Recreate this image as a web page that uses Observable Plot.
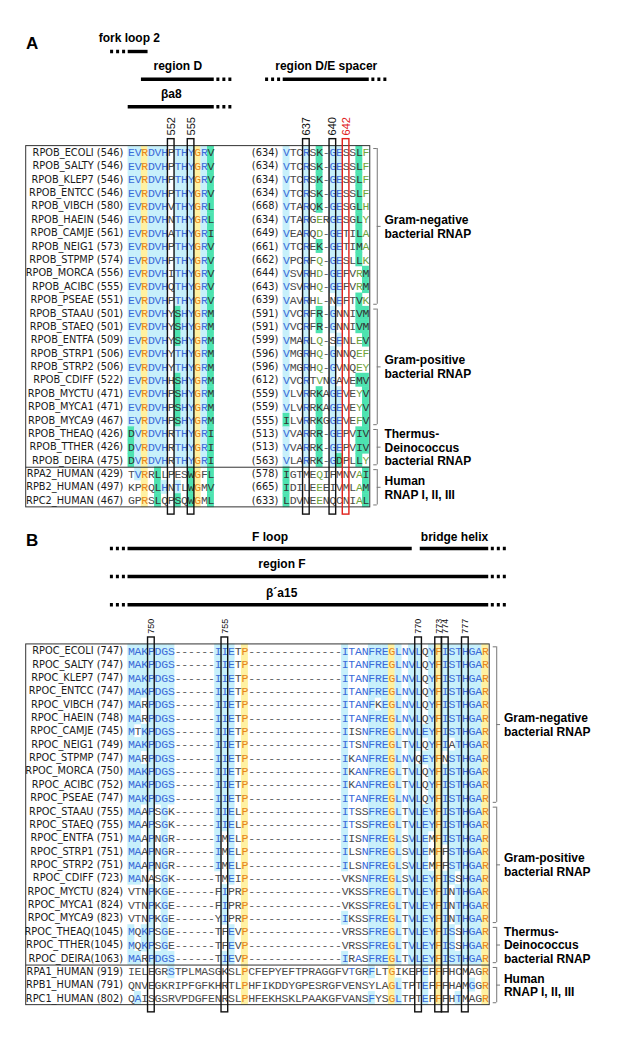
<!DOCTYPE html>
<html>
<head>
<meta charset="utf-8">
<script src="https://cdn.jsdelivr.net/npm/d3@7"></script>
<script src="https://cdn.jsdelivr.net/npm/@observablehq/plot@0.6"></script>
<style>
  html, body { margin: 0; padding: 0; background: #fff; }
  #fig { width: 639px; }
  #fig svg { display: block; }
</style>
</head>
<body>
<div id="fig"></div>
<script>
// ====================== DATA ======================
// ---- Panel A (RNAP beta subunit) ----
const namesA = ["RPOB_ECOLI","RPOB_SALTY","RPOB_KLEP7","RPOB_ENTCC","RPOB_VIBCH","RPOB_HAEIN","RPOB_CAMJE","RPOB_NEIG1","RPOB_STPMP","RPOB_MORCA","RPOB_ACIBC","RPOB_PSEAE","RPOB_STAAU","RPOB_STAEQ","RPOB_ENTFA","RPOB_STRP1","RPOB_STRP2","RPOB_CDIFF","RPOB_MYCTU","RPOB_MYCA1","RPOB_MYCA9","RPOB_THEAQ","RPOB_TTHER","RPOB_DEIRA","RPA2_HUMAN","RPB2_HUMAN","RPC2_HUMAN"];
const leftStartA = [546,546,546,546,580,546,561,573,574,556,555,551,501,501,509,506,506,522,471,471,467,426,426,475,429,497,467];
const leftSeqA = [
  "EVRDVHPTHYGRV","EVRDVHPTHYGRV","EVRDVHPTHYGRV","EVRDVHPTHYGRV","EVRDVHVTHYGRL",
  "EVRDVHNTHYGRL","EVRDVHATHYGRI","EVRDVHPTHYGRV","EVRDVHPTHYGRV","EVRDVHITHYGRV",
  "EVRDVHQTHYGRV","EVRDVHPTHYGRV","EVRDVHYSHYGRM","EVRDVHYSHYGRM","EVRDVHYSHYGRM",
  "EVRDVHYTHYGRM","EVRDVHYTHYGRM","EVRDVHHSHYGRM","EVRDVHPSHYGRM","EVRDVHPSHYGRM",
  "EVRDVHPSHYGRM","DVRDVHRTHYGRI","DVRDVHRTHYGRI","DVRDVHRTHYGRI","TVRRLLPESWGFL",
  "KPRQLHNTLWGMV","GPRSLQPSQWGML"];
const rightStartA = [634,634,634,634,668,634,649,661,662,644,643,639,591,591,599,596,596,612,559,559,555,513,513,563,578,665,633];
const rightSeqA = [
  "VTCRSK-GESSLF","VTCRSK-GESSLF","VTCRSK-GESSLF","VTCRSK-GESSLF","VTARQK-GESGLH",
  "VTARGERGESGLY","VEARQD-GETILA","VTCREK-GETIMA","VPCRFQ-GESLLK","VSVRHD-GEFVRM",
  "VSVRHQ-GEFVRM","VAVRHL-NEFTVK","VVCRFR-GNNIVM","VVCRFR-GNNIVM","VMARLQ-SENLEV",
  "VMGRHQ-GNNQEF","VMGRHQ-GVNQEY","VVCRTVNGAVEMV","VLVRRKAGEVEYV","VLVRRKAGEVEYV",
  "ILVRRKGGEVEFV","VVARRR-GEPVIV","VVARRK-GEPVIV","VLARRK-GDPLLY","IGTMEQIFMNVAI",
  "IDILEEEIVMLAM","LDVNEENQCNIAL"];
const markerResA = [552, 555, 637, 640, 642];
const markerBlockA = [0, 0, 1, 1, 1];
const headerLabelsA = ["fork loop 2", "region D", "\u03b2a8", "region D/E spacer"];
const headerFromA = [546, 548, 546, 634];
const headerToA = [548, 558, 558, 645];
const headerBlockA = [0, 0, 0, 1];
const headerDotsA = ["L", "R", "R", "LR"];
const headerLevelA = [0, 1, 2, 1];

// ---- Panel B (RNAP beta' subunit) ----
const namesB = ["RPOC_ECOLI","RPOC_SALTY","RPOC_KLEP7","RPOC_ENTCC","RPOC_VIBCH","RPOC_HAEIN","RPOC_CAMJE","RPOC_NEIG1","RPOC_STPMP","RPOC_MORCA","RPOC_ACIBC","RPOC_PSEAE","RPOC_STAAU","RPOC_STAEQ","RPOC_ENTFA","RPOC_STRP1","RPOC_STRP2","RPOC_CDIFF","RPOC_MYCTU","RPOC_MYCA1","RPOC_MYCA9","RPOC_THEAQ","RPOC_TTHER","RPOC_DEIRA","RPA1_HUMAN","RPB1_HUMAN","RPC1_HUMAN"];
const startB = [747,747,747,747,747,748,745,749,747,750,752,747,755,755,751,751,751,723,824,824,823,1045,1045,1063,919,791,802];
const seqB = [
  "MAKPDGS------IIETP--------------ITANFREGLNVLQYFISTHGAR",
  "MAKPDGS------IIETP--------------ITANFREGLNVLQYFISTHGAR",
  "MAKPDGS------IIETP--------------ITANFREGLNVLQYFISTHGAR",
  "MAKPDGS------IIETP--------------ITANFREGLNVLQYFISTHGAR",
  "MARPDGS------IIETP--------------ITANFKEGLNVLQYFISTHGAR",
  "MARPDGS------IIETP--------------ITANFREGLNVLQYFISTHGAR",
  "MTKPDGS------IIETP--------------IISNFREGLNVLEYFISTHGAR",
  "MAKPDGS------IIETP--------------ITSNFREGLTVLQYFIATHGAR",
  "MARPDGS------IIETP--------------IKANFREGLNVQEYFNSTHGAR",
  "MAKPDGS------IIETP--------------IKANFREGLTVLQYFISTHGAR",
  "MAKPDGS------IIETP--------------IKANFREGLTVLQYFISTHGAR",
  "MAKPDGS------IIETP--------------ITANFREGLNVLQYFISTHGAR",
  "MAAPSGK------IIELP--------------ITSSFREGLTVLEYFISTHGAR",
  "MAAPSGK------IIELP--------------ITSSFREGLTVLEYFISTHGAR",
  "MAAPNGR------IMELP--------------IISNFREGLSVLEMFISTHGAR",
  "MAAPNGR------IMELP--------------ILSNFREGLSVLEMFFSTHGAR",
  "MAAPNGR------IMELP--------------ILSNFREGLSVLEMFFSTHGAR",
  "MANASGK------TMEIP--------------VKSNFREGLSVLEYFISSHGAR",
  "VTNPKGE------FIPRP--------------VKSSFREGLTVLEYFINTHGAR",
  "VTNPKGE------FIPRP--------------VKSSFREGLTVLEYFINTHGAR",
  "VTNPKGE------YIPRP--------------IKSSFREGLTVLEYFINTHGAR",
  "MQKPSGE------TFEVP--------------VRSSFREGLTVLEYFISSHGAR",
  "MQKPSGE------TFEVP--------------VRSSFREGLTVLEYFISSHGAR",
  "MARPDGS------TIEVP--------------IRASFREGLTVLEYFISTHGAR",
  "IELEGRSTPLMASGKSLPCFEPYEFTPRAGGFVTGRFLTGIKEPEFFFHCMAGR",
  "QNVEGKRIPFGFKHRTLPHFIKDDYGPESRGFVENSYLAGLTPTEFFFHAMGGR",
  "QAISGSRVPDGFENRSLPHFEKHSKLPAAKGFVANSFYSGLTPTEFFFHTMAGR"];
const markerResB = [750, 755, 770, 773, 774, 777];
const markerBlockB = [0, 0, 0, 0, 0, 0];
const headerLabelsB = ["F loop", "bridge helix", "region F", "\u03b2\u00b4a15"];
const headerFromB = [747, 770, 747, 747];
const headerToB = [769, 780, 780, 780];
const headerBlockB = [0, 0, 0, 0];
const headerDotsB = ["L", "R", "LR", "LR"];
const headerLevelB = [0, 0, 1, 2];

// ---- groups (shared by both panels) ----
const groupLabels = ["Gram-negative\nbacterial RNAP", "Gram-positive\nbacterial RNAP", "Thermus-\nDeinococcus\nbacterial RNAP", "Human\nRNAP I, II, III"];
const groupFirst = [0, 12, 21, 24];
const groupLast = [11, 20, 23, 26];
const humanFirstRow = 24;

// ====================== STYLE ======================
const COL = {blue:"#3a6ad8", orange:"#e6841a", dark:"#333333", gray:"#4a4a4a", weak:"#6ea33c", gap:"#5f5f5f",
             cyan:"#c7f0fb", yellow:"#fff1a1", green:"#4de3b0"};
// conservation colouring (Y identical, C conserved, G similar block, B consensus text, N none)
const consA_L = "EVRDVHPTHYGRV", clsA_L = "CCYCCCNCCCYCG";
const consA_R = "VTCRSK-GESSLV", clsA_R = "CNNCNGNCCNNGG";
const consB = "MAKPDGS------IIETP--------------ITANFREGLNVLEYFISTHGAR";
const clsB = "CCCCCCC" + "NNNNNN" + "CCCNY" + "NNNNNNNNNNNNNN" + "CBBBCCCYCBCCCCYCCCCCCY";
const SIM = ["DE","KR","ILVM","FYW","ST","NQ"];
const sim = (a, b) => SIM.some(g => g.includes(a) && g.includes(b));
function cellStyle(ch, cons, cls, useGreen) {
  if (ch === "-") return [COL.gap, null];
  if (cls === "Y") return ch === cons ? [COL.orange, COL.yellow] : [COL.gray, COL.yellow];
  if (cls === "C") return ch === cons ? [COL.blue, COL.cyan] : (useGreen && sim(ch, cons)) ? [COL.dark, COL.green] : [COL.gray, null];
  if (cls === "G") return (ch === cons || sim(ch, cons)) ? [COL.dark, COL.green] : [COL.weak, null];
  if (cls === "B") return ch === cons ? [COL.blue, null] : [COL.gray, null];
  return [COL.gray, null];
}
const redMarkers = new Set([642]);
const labelShift = {"region F": -3.95, "\u03b2\u00b4a15": -4.0};

const FONT_SANS = "'Liberation Sans', Arial, sans-serif";
const FONT_NAME = "'DejaVu Sans', Verdana, sans-serif";
const FONT_SEQ = "'Liberation Mono', 'Courier New', monospace";

function colOf(seq, start, res) {
  let n = start - 1;
  for (let i = 0; i < seq.length; i++) {
    if (seq[i] !== "-") { n++; if (n === res) return i; }
  }
  return seq.length - 1;
}

function panel(cfg) {
  const {W, H, x0, cw, y0, rh, blocks, names, letter, letterRow, numSize, useGreen,
         markerRes, markerBlock, hLabels, hFrom, hTo, hBlock, hDots, hLevel,
         labelRows, barRows, boxLeftPx} = cfg;
  const px = v => v / cw;
  const nRows = names.length;
  const marks = [];

  // cells
  const cells = [];
  blocks.forEach(b => {
    b.seqs.forEach((s, r) => {
      [...s].forEach((ch, c) => {
        const [fg, bg] = cellStyle(ch, b.cons[c], b.cls[c], useGreen);
        cells.push({r, x: b.offset + c, ch, fg, bg});
      });
    });
  });
  const lastBlock = blocks[blocks.length - 1];
  const boxX1 = px(boxLeftPx - x0);
  const boxX2 = lastBlock.offset + lastBlock.seqs[0].length + px(1);

  marks.push(Plot.rect(cells.filter(d => d.bg), {
    x1: d => d.x - 0.02, x2: d => d.x + 1.02, y1: d => d.r - 0.52, y2: d => d.r + 0.52, fill: d => d.bg
  }));
  marks.push(Plot.text(cells, {
    x: d => d.x + 0.5, y: d => d.r, text: d => d.ch, fill: d => d.fg,
    fontFamily: FONT_SEQ, fontSize: 11.5
  }));

  // row labels
  const labelRowsData = [];
  blocks.forEach((b, bi) => {
    b.seqs.forEach((s, r) => {
      const st = b.starts[r];
      const num = st >= 1000 ? `(${st})` : ` (${st})`;
      const t = bi === 0 ? names[r] + num : `(${st})`;
      labelRowsData.push({r, x: b.offset - px(5), t});
    });
  });
  marks.push(Plot.text(labelRowsData, {
    x: d => d.x, y: d => d.r, text: d => d.t, textAnchor: "end",
    fontFamily: FONT_NAME, fontSize: 9.8, fill: "#1a1a1a"
  }));

  // alignment box + human separator
  marks.push(Plot.rect([0], {x1: () => boxX1, x2: () => boxX2, y1: () => -0.5, y2: () => nRows - 0.5,
    fill: "none", stroke: "#333", strokeWidth: 1}));
  marks.push(Plot.ruleY([humanFirstRow - 0.5], {y: d => d, x1: () => boxX1, x2: () => boxX2, stroke: "#333", strokeWidth: 1}));

  // residue marker boxes + numbers
  const mTop = -1.02, mBot = nRows + 0.04;
  const markers = markerRes.map((res, i) => {
    const b = blocks[markerBlock[i]];
    const c = b.offset + colOf(b.seqs[0], b.starts[0], res);
    return {res, c, color: redMarkers.has(res) ? "#e0201a" : "#111"};
  });
  marks.push(Plot.rect(markers, {x1: d => d.c, x2: d => d.c + 1, y1: () => mTop, y2: () => mBot,
    fill: "none", stroke: d => d.color, strokeWidth: 1.4}));
  marks.push(Plot.text(markers, {x: d => d.c + 0.5, y: () => mTop - 0.28, text: d => String(d.res),
    rotate: -90, textAnchor: "start", fill: d => d.color, fontFamily: FONT_SANS, fontSize: numSize}));

  // header bars
  const dotLen = px(15), dotGap = px(2.6);
  const bars = hLabels.map((label, i) => {
    const b = blocks[hBlock[i]];
    const x1 = b.offset + colOf(b.seqs[0], b.starts[0], hFrom[i]);
    const x2 = b.offset + colOf(b.seqs[0], b.starts[0], hTo[i]) + 1;
    return {label, level: hLevel[i], x1, x2, dotsL: hDots[i].includes("L"), dotsR: hDots[i].includes("R")};
  });
  for (let i = 0; i < bars.length; i++) for (let j = 0; j < bars.length; j++) {
    const a = bars[i], b = bars[j];
    if (i !== j && a.level === b.level && Math.abs(a.x2 - b.x1) < 0.01) { a.x2 -= 0.45; b.x1 += 0.75; }
  }
  const dotsSegs = [];
  bars.forEach(b => {
    if (b.dotsL) dotsSegs.push({level: b.level, x1: b.x1 - dotGap - dotLen, x2: b.x1 - dotGap});
    if (b.dotsR) dotsSegs.push({level: b.level, x1: b.x2 + dotGap, x2: b.x2 + dotGap + dotLen});
    const lo = (b.x2 - b.x1 < 5 && b.dotsL) ? b.x1 - dotGap - dotLen : b.x1;
    b.cx = (lo + b.x2) / 2 + (labelShift[b.label] || 0);
  });
  marks.push(Plot.ruleY(bars, {y: d => barRows[d.level], x1: d => d.x1, x2: d => d.x2, stroke: "#000", strokeWidth: 3.4}));
  marks.push(Plot.ruleY(dotsSegs, {y: d => barRows[d.level], x1: d => d.x1, x2: d => d.x2, stroke: "#000",
    strokeWidth: 3.4, strokeDasharray: "3,3"}));
  marks.push(Plot.text(bars, {x: d => d.cx, y: d => labelRows[d.level], text: d => d.label,
    fontFamily: FONT_SANS, fontWeight: "bold", fontSize: 12, fill: "#000"}));

  // panel letter
  marks.push(Plot.text([letter], {x: () => px(25.5 - x0), y: () => letterRow, text: d => d, textAnchor: "start",
    fontFamily: FONT_SANS, fontWeight: "bold", fontSize: 17, fill: "#000"}));

  // group brackets
  const bx = boxX2 + px(7), tx = boxX2 + px(3.5), mx = boxX2 + px(10.8), lx = boxX2 + px(14.2);
  const groups = groupLabels.map((g, i) => ({g, a: groupFirst[i] - 0.32, b: groupLast[i] + 0.32, m: (groupFirst[i] + groupLast[i]) / 2}));
  marks.push(Plot.ruleX(groups, {x: () => bx, y1: d => d.a, y2: d => d.b, stroke: "#777", strokeWidth: 1}));
  marks.push(Plot.ruleY(groups, {y: d => d.a, x1: () => tx, x2: () => bx, stroke: "#777", strokeWidth: 1}));
  marks.push(Plot.ruleY(groups, {y: d => d.b, x1: () => tx, x2: () => bx, stroke: "#777", strokeWidth: 1}));
  marks.push(Plot.ruleY(groups, {y: d => d.m, x1: () => bx, x2: () => mx, stroke: "#777", strokeWidth: 1}));
  marks.push(Plot.text(groups, {x: () => lx, y: d => d.m, text: d => d.g, textAnchor: "start",
    lineHeight: 1.15, fontFamily: FONT_SANS, fontWeight: "bold", fontSize: 12, fill: "#000"}));

  return Plot.plot({
    width: W, height: H, margin: 0,
    x: {type: "linear", domain: [-x0 / cw, (W - x0) / cw], range: [0, W], axis: null},
    y: {type: "linear", domain: [-y0 / rh, (H - y0) / rh], range: [0, H], axis: null},
    color: {type: "identity"},
    style: {background: "#fff", overflow: "visible"},
    marks
  });
}

const CW_A = 6.62, X0_A = 127.7;
const RB_A = (282.7 - X0_A) / CW_A;
const figA = panel({
  W: 639, H: 525, x0: X0_A, cw: CW_A, y0: 152.3, rh: 13.38, useGreen: true,
  blocks: [
    {seqs: leftSeqA, starts: leftStartA, offset: 0, cons: consA_L, cls: clsA_L},
    {seqs: rightSeqA, starts: rightStartA, offset: RB_A, cons: consA_R, cls: clsA_R}
  ],
  names: namesA, letter: "A", letterRow: -8.19, numSize: 11,
  markerRes: markerResA, markerBlock: markerBlockA,
  hLabels: headerLabelsA, hFrom: headerFromA, hTo: headerToA, hBlock: headerBlockA, hDots: headerDotsA, hLevel: headerLevelA,
  labelRows: [-8.59, -6.45, -4.41], barRows: [-7.57, -5.5, -3.44], boxLeftPx: 25.7
});
const figB = panel({
  W: 639, H: 524, x0: 127.5, cw: 6.68, y0: 650.6 - 525, rh: 13.36, useGreen: false,
  blocks: [{seqs: seqB, starts: startB, offset: 0, cons: consB, cls: clsB}],
  names: namesB, letter: "B", letterRow: -8.28, numSize: 9,
  markerRes: markerResB, markerBlock: markerBlockB,
  hLabels: headerLabelsB, hFrom: headerFromB, hTo: headerToB, hBlock: headerBlockB, hDots: headerDotsB, hLevel: headerLevelB,
  labelRows: [-8.53, -6.48, -4.33], barRows: [-7.68, -5.58, -3.47], boxLeftPx: 25.7
});
document.getElementById("fig").append(figA, figB);
</script>
</body>
</html>
